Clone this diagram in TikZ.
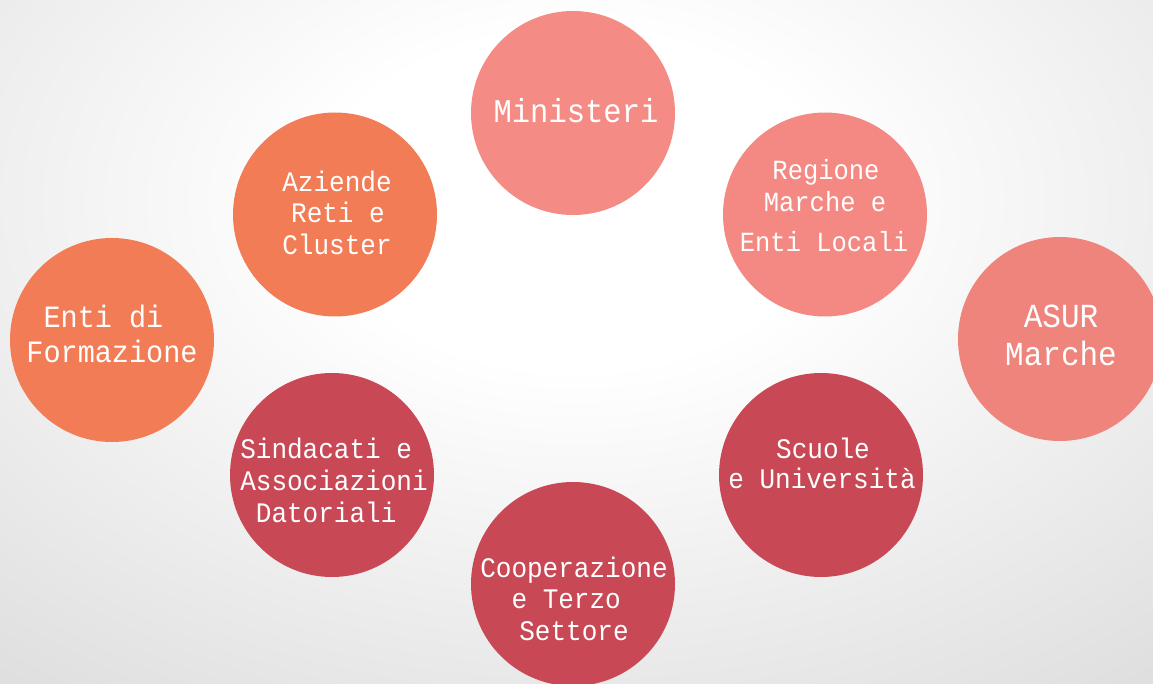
\documentclass[tikz,border=0pt]{standalone}
\usepackage{fontspec}
\newfontfamily\monof[FakeStretch=0.92]{Liberation Mono}
\definecolor{orng}{RGB}{242,124,85}
\definecolor{pinkA}{RGB}{245,139,133}
\definecolor{pinkB}{RGB}{244,137,131}
\definecolor{pinkC}{RGB}{239,132,125}
\definecolor{crim}{RGB}{200,72,85}
\definecolor{bgout}{RGB}{222,222,222}
\pgfdeclareradialshading{bgshade}{\pgfpoint{0bp}{0bp}}{color(0bp)=(white); color(7bp)=(white); color(26bp)=(bgout); color(50bp)=(bgout)}
\newcommand\tsp{\hphantom{x}}
\tikzset{
  circ/.style={circle, minimum size=204pt, inner sep=0pt, draw=none},
  lbl/.style={anchor=base, inner sep=0pt, text=white, font=\monof},
}
\begin{document}
\begin{tikzpicture}[x=1pt,y=-1pt]
\useasboundingbox (0,0) rectangle (1153,684);
\clip (0,0) rectangle (1153,684);
\shade[shading=bgshade] (-325,-400) rectangle (1475,800);

% circles
\node[circ, fill=pinkA] (min) at (573,113) {};
\node[circ, fill=orng]  (azi) at (335,214.5) {};
\node[circ, fill=pinkB] (reg) at (825,214.5) {};
\node[circ, fill=orng]  (ent) at (112,340) {};
\node[circ, fill=pinkC] (asu) at (1060,339) {};
\node[circ, fill=crim]  (sin) at (332,475) {};
\node[circ, fill=crim]  (scu) at (821,475) {};
\node[circ, fill=crim]  (coo) at (573,584) {};

% labels
\node[lbl, font=\monof\fontsize{33.2}{33.2}\selectfont] (minA) at (576,123) {Ministeri};

\node[lbl, font=\monof\fontsize{28.3}{28.3}\selectfont] (aziA) at (337,192) {Aziende};
\node[lbl, font=\monof\fontsize{28.3}{28.3}\selectfont] (aziB) at (338,223) {Reti e};
\node[lbl, font=\monof\fontsize{28.3}{28.3}\selectfont] (aziC) at (337,255) {Cluster};

\node[lbl, font=\monof\fontsize{27.7}{27.7}\selectfont] (regA) at (826,180) {Regione};
\node[lbl, font=\monof\fontsize{27.7}{27.7}\selectfont] (regB) at (825,212) {Marche e};
\node[lbl, font=\monof\fontsize{27.7}{27.7}\selectfont] (regC) at (824,252) {Enti Locali};

\node[lbl, font=\monof\fontsize{31}{31}\selectfont] (entA) at (112,327) {Enti di\tsp};
\node[lbl, font=\monof\fontsize{31}{31}\selectfont] (entB) at (112,362) {Formazione};

\node[lbl, font=\monof\fontsize{33.7}{33.7}\selectfont] (asuA) at (1061,327) {ASUR};
\node[lbl, font=\monof\fontsize{33.7}{33.7}\selectfont] (asuB) at (1061,365) {Marche};

\node[lbl, font=\monof\fontsize{28.3}{28.3}\selectfont] (sinA) at (334,458) {Sindacati e\tsp};
\node[lbl, font=\monof\fontsize{28.3}{28.3}\selectfont] (sinB) at (334,490) {Associazioni};
\node[lbl, font=\monof\fontsize{28.3}{28.3}\selectfont] (sinC) at (334,522) {Datoriali\tsp};

\node[lbl, font=\monof\fontsize{28.3}{28.3}\selectfont] (scuA) at (823,458) {Scuole};
\node[lbl, font=\monof\fontsize{28.3}{28.3}\selectfont] (scuB) at (822,488) {e Università};

\node[lbl, font=\monof\fontsize{28.3}{28.3}\selectfont] (cooA) at (574,577) {Cooperazione};
\node[lbl, font=\monof\fontsize{28.3}{28.3}\selectfont] (cooB) at (574,608) {e Terzo\tsp};
\node[lbl, font=\monof\fontsize{28.3}{28.3}\selectfont] (cooC) at (574,640) {Settore};
\end{tikzpicture}
\end{document}
